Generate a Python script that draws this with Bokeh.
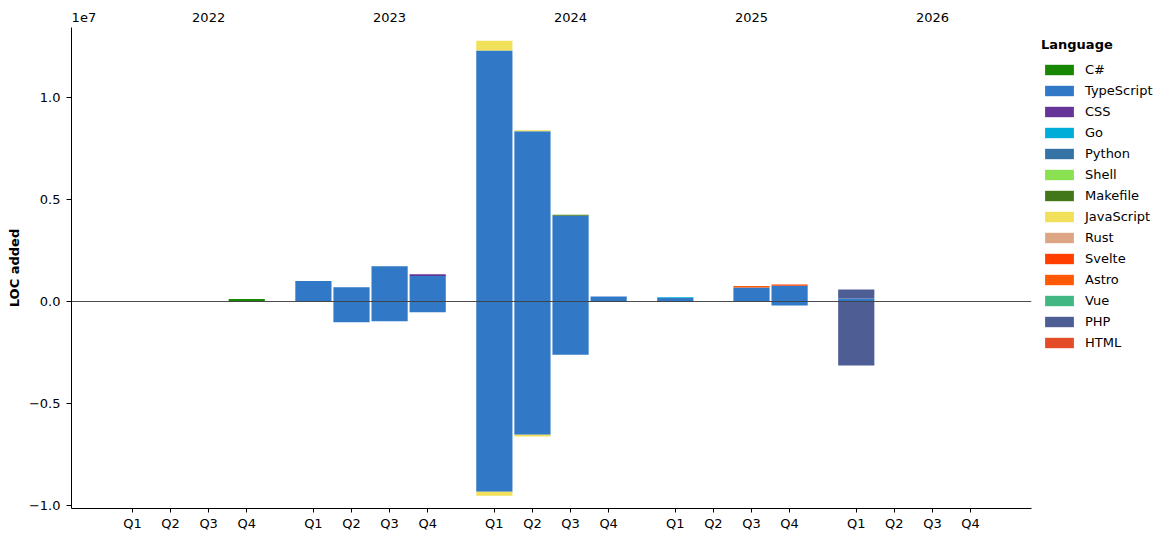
from bokeh.plotting import figure
from bokeh.models import (ColumnDataSource, FixedTicker, LinearAxis, Legend,
                          LegendItem, Span, Range1d)
from bokeh.embed import file_html
from bokeh.resources import INLINE

# ---------------- data ----------------
years = ["2022", "2023", "2024", "2025", "2026"]
quarters = ["Q1", "Q2", "Q3", "Q4"]

languages = ["C#", "TypeScript", "CSS", "Go", "Python", "Shell", "Makefile",
             "JavaScript", "Rust", "Svelte", "Astro", "Vue", "PHP", "HTML"]
colors = ["#178600", "#3178c6", "#663399", "#00add8", "#3572a5", "#89e051",
          "#427819", "#f1e05a", "#dea584", "#ff3e00", "#ff5a03", "#41b883",
          "#4f5d95", "#e34c26"]

# 20 periods: 2022Q1 ... 2026Q4  (LOC added, positive = additions, negative = removals)
z = [0] * 20
pos_csharp = [0, 0, 0, 120000] + [0] * 16
pos_typescript = [0, 0, 0, 0,
                  1000000, 700000, 1730000, 1250000,
                  12280000, 8330000, 4200000, 250000,
                  170000, 0, 690000, 770000,
                  150000, 0, 0, 0]
neg_typescript = [0, 0, 0, 0,
                  0, -1020000, -970000, -520000,
                  -9310000, -6520000, -2600000, -30000,
                  -20000, 0, 0, -200000,
                  0, 0, 0, 0]
pos_css = [0] * 7 + [85000] + [0] * 12
pos_go = [0] * 12 + [40000] + [0] * 7
pos_makefile = [0] * 10 + [50000] + [0] * 9
pos_javascript = [0] * 8 + [475000, 50000] + [0] * 10
neg_javascript = [0] * 8 + [-196000, -80000] + [0] * 10
pos_svelte = [0] * 15 + [60000] + [0] * 4
pos_astro = [0] * 14 + [70000] + [0] * 5
pos_php = [0] * 16 + [440000, 0, 0, 0]
neg_php = [0] * 16 + [-3130000, 0, 0, 0]

pos_values = {
    "C#": pos_csharp, "TypeScript": pos_typescript, "CSS": pos_css, "Go": pos_go,
    "Python": z, "Shell": z, "Makefile": pos_makefile, "JavaScript": pos_javascript,
    "Rust": z, "Svelte": pos_svelte, "Astro": pos_astro, "Vue": z,
    "PHP": pos_php, "HTML": z,
}
neg_values = {
    "C#": z, "TypeScript": neg_typescript, "CSS": z, "Go": z,
    "Python": z, "Shell": z, "Makefile": z, "JavaScript": neg_javascript,
    "Rust": z, "Svelte": z, "Astro": z, "Vue": z,
    "PHP": neg_php, "HTML": z,
}

# ---------------- layout of x positions ----------------
YEAR_STEP = 19   # 4 quarters * 4 units + gap
Q_STEP = 4
xs = [yi * YEAR_STEP + qi * Q_STEP for yi in range(len(years)) for qi in range(len(quarters))]

data = {"x": xs}
pos_cols, neg_cols = [], []
for lang in languages:
    data["p_" + lang] = pos_values[lang]
    data["n_" + lang] = neg_values[lang]
    pos_cols.append("p_" + lang)
    neg_cols.append("n_" + lang)
source = ColumnDataSource(data)

FONT = "DejaVu Sans"
X0, X1 = -6.4, 94.4

p = figure(width=1163, height=534, output_backend="svg", toolbar_location=None,
           x_range=Range1d(X0, X1), y_range=Range1d(-1.0127e7, 1.3405e7),
           min_border_left=71, min_border_top=27, min_border_bottom=26,
           min_border_right=132)
p.frame_width = 960
p.frame_height = 481
p.outline_line_color = None
p.xgrid.grid_line_color = None
p.ygrid.grid_line_color = None
p.background_fill_color = "white"
p.border_fill_color = "white"

pos_r = p.vbar_stack(pos_cols, x="x", width=3.8, color=colors, line_color=None, source=source)
neg_r = p.vbar_stack(neg_cols, x="x", width=3.8, color=colors, line_color=None, source=source)

p.add_layout(Span(location=0, dimension="width", line_color="#3a3a3a", line_width=0.9))

# x axis (quarters)
xa = p.xaxis[0]
xa.ticker = FixedTicker(ticks=xs)
xa.major_label_overrides = {x: quarters[i % 4] for i, x in enumerate(xs)}
xa.minor_tick_line_color = None
xa.major_tick_in = 0
xa.major_tick_out = 4
xa.major_label_standoff = 3
xa.major_label_text_font = FONT
xa.major_label_text_font_size = "13px"
xa.major_label_text_color = "black"
xa.axis_line_color = "black"

# year axis on top (plus the scale multiplier text at the left end)
year_ticks = [yi * YEAR_STEP + 2 * Q_STEP for yi in range(len(years))]
SCALE_POS = -5.1
top_overrides = {t: years[i] for i, t in enumerate(year_ticks)}
top_overrides[SCALE_POS] = "1e7"
ya_top = LinearAxis(ticker=FixedTicker(ticks=[SCALE_POS] + year_ticks),
                    major_label_overrides=top_overrides)
ya_top.axis_line_color = None
ya_top.major_tick_line_color = None
ya_top.minor_tick_line_color = None
ya_top.major_tick_out = 0
ya_top.major_tick_in = 0
ya_top.major_label_standoff = 6
ya_top.major_label_text_font = FONT
ya_top.major_label_text_font_size = "13px"
ya_top.major_label_text_color = "black"
p.add_layout(ya_top, "above")

# y axis
yticks = [-10000000, -5000000, 0, 5000000, 10000000]
ylabels = ["\u22121.0", "\u22120.5", "0.0", "0.5", "1.0"]
ya = p.yaxis[0]
ya.ticker = FixedTicker(ticks=yticks)
ya.major_label_overrides = {t: l for t, l in zip(yticks, ylabels)}
ya.minor_tick_line_color = None
ya.major_tick_in = 0
ya.major_tick_out = 5
ya.major_label_standoff = 6
ya.major_label_text_font = FONT
ya.major_label_text_font_size = "13px"
ya.major_label_text_color = "black"
ya.axis_line_color = "black"
ya.axis_label = "LOC added"
ya.axis_label_text_font = FONT
ya.axis_label_text_font_style = "bold"
ya.axis_label_text_font_size = "13px"
ya.axis_label_text_color = "black"
ya.axis_label_standoff = 4

items = [LegendItem(label=lang, renderers=[pos_r[i]]) for i, lang in enumerate(languages)]
legend = Legend(items=items, title="Language", location="top_left",
                title_text_font=FONT, title_text_font_style="bold", title_text_font_size="13px",
                title_text_color="black", title_standoff=9,
                label_text_font=FONT, label_text_font_size="13px", label_text_color="black",
                glyph_width=36, glyph_height=13, label_standoff=8,
                spacing=4, label_height=17, padding=16, margin=10,
                border_line_color=None, background_fill_alpha=0)
p.add_layout(legend, "right")

open("out.html", "w").write(file_html(p, INLINE))
